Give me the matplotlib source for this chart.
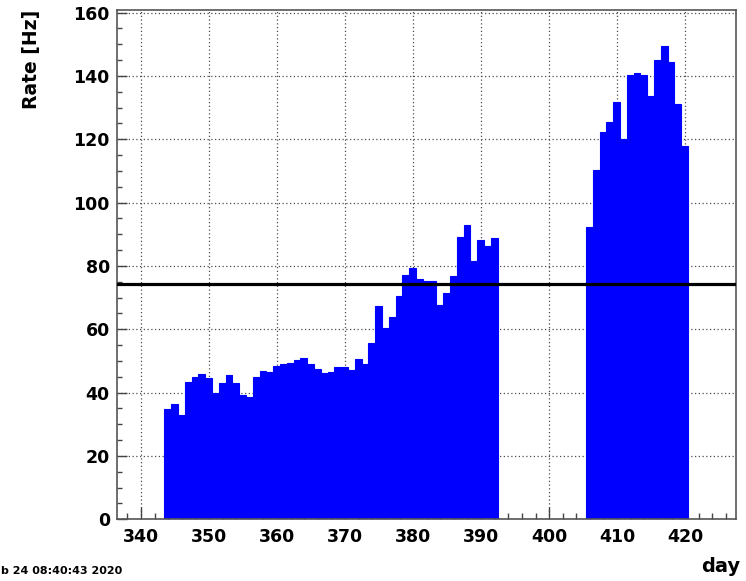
import numpy as np
import matplotlib
matplotlib.use("Agg")
import matplotlib.pyplot as plt
from matplotlib.ticker import MultipleLocator

# ---- data ----
rate_a = [34.7, 36.3, 33.0, 43.3, 45.0, 45.8, 44.7, 39.8, 43.0, 45.6,
          43.2, 39.3, 38.7, 44.9, 46.7, 46.4, 48.4, 49.2, 49.3, 50.4,
          50.9, 49.0, 47.4, 46.1, 46.4, 48.0, 48.2, 47.0, 50.6, 49.1,
          55.6, 67.4, 60.3, 64.0, 70.6, 77.2, 79.3, 75.9, 75.1, 75.3,
          67.7, 71.4, 76.9, 89.3, 92.8, 81.7, 88.2, 86.4, 88.8]
rate_b = [92.3, 110.4, 122.2, 125.6, 131.9, 120.2, 140.4, 140.9, 140.4,
          133.8, 145.1, 149.6, 144.4, 131.1, 117.9]
start_a = 343.42      # left edge of first bin (day)
start_b = 405.42
bin_width = 1.0
mean_rate = 74.2
x_range = (336.42, 427.42)
y_range = (0, 161.0)
x_ticks = [340, 350, 360, 370, 380, 390, 400, 410, 420]
y_ticks = [0, 20, 40, 60, 80, 100, 120, 140, 160]
x_title = "day"
y_title = "Rate [Hz]"
date_text = "b 24 08:40:43 2020"

W, H = 746, 581
fig = plt.figure(figsize=(W / 100, H / 100), dpi=100)
ax = fig.add_axes([116.7 / W, (H - 519.3) / H, (735.7 - 116.7) / W, (519.3 - 9.5) / H])

font = "DejaVu Sans"

edges_a = start_a + bin_width * np.arange(len(rate_a) + 1)
edges_b = start_b + bin_width * np.arange(len(rate_b) + 1)
for vals, edges in ((rate_a, edges_a), (rate_b, edges_b)):
    ax.stairs(vals, edges, fill=True, facecolor="#0000ff", edgecolor="#0000ff",
              linewidth=0.8, zorder=2, baseline=0)

ax.axhline(mean_rate, color="black", linewidth=2.3, zorder=3)

ax.set_xlim(*x_range)
ax.set_ylim(*y_range)
ax.set_xticks(x_ticks)
ax.set_yticks(y_ticks)
ax.xaxis.set_minor_locator(MultipleLocator(2))
ax.yaxis.set_minor_locator(MultipleLocator(5))

ax.grid(True, which="major", color="0.3", linestyle=(0, (1, 2)), linewidth=0.9, zorder=1)
ax.set_axisbelow(True)

for s in ax.spines.values():
    s.set_color("#555555")
    s.set_linewidth(1.2)

ax.tick_params(axis="x", which="major", direction="in", length=8.6, width=1.0, color="#444444",
               pad=6, labelsize=12.5)
ax.tick_params(axis="x", which="minor", direction="in", length=4.3, width=1.0, color="#444444")
ax.tick_params(axis="y", which="major", direction="in", length=7.2, width=1.0, color="#444444",
               pad=5, labelsize=12.5)
ax.tick_params(axis="y", which="minor", direction="in", length=3.6, width=1.0, color="#444444")
for lab in ax.get_xticklabels() + ax.get_yticklabels():
    lab.set_fontfamily(font)
    lab.set_fontweight("bold")

fig.text(31 / W, 1 - 10 / H, y_title, rotation=90, ha="center", va="top",
         fontsize=13.5, fontweight="bold", family=font)
fig.text(740 / W, 1 - 566 / H, x_title, ha="right", va="center",
         fontsize=14, fontweight="bold", family=font)
fig.text(1 / W, 1 - 571 / H, date_text, ha="left", va="center",
         fontsize=8, fontweight="bold", family=font)

fig.savefig("out.png", dpi=100, facecolor="white")
